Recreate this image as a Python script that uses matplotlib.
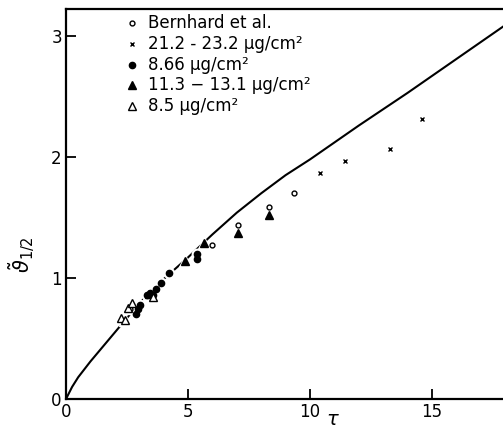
"""
Half-width vs tau: theory curve and measured points
"""

import numpy as np
import matplotlib
matplotlib.use('Agg')
import matplotlib.pyplot as plt

# Theory curve
curveTau = [0, 0.25, 0.5, 1, 1.5, 2, 3, 4, 5, 6, 7, 8, 9, 10, 12, 14, 16, 18]
curveTheta = [0, 0.10, 0.18, 0.31, 0.43, 0.55, 0.79, 0.99, 1.17, 1.36, 1.54, 1.70, 1.85, 1.98,
              2.26, 2.53, 2.81, 3.09]

# Bernhard et al. (open circles)
bernTau = [2.62, 5.97, 7.06, 8.33, 9.35]
bernTheta = [0.74, 1.27, 1.44, 1.59, 1.70]

# 21.2 - 23.2 ug/cm2 (crosses)
crossTau = [10.41, 11.43, 13.27, 14.57]
crossTheta = [1.87, 1.97, 2.07, 2.31]

# 8.66 ug/cm2 (filled circles)
dotTau = [2.87, 2.95, 3.03, 3.33, 3.44, 3.55, 3.69, 3.88, 4.22, 5.38, 5.38]
dotTheta = [0.70, 0.74, 0.78, 0.86, 0.88, 0.86, 0.91, 0.96, 1.04, 1.16, 1.20]

# 11.3 - 13.1 ug/cm2 (filled triangles)
triTau = [3.40, 4.88, 5.66, 7.06, 8.33]
triTheta = [0.87, 1.14, 1.29, 1.37, 1.52]

# 8.5 ug/cm2 (open triangles)
openTriTau = [2.24, 2.42, 2.55, 2.72, 3.58]
openTriTheta = [0.67, 0.65, 0.75, 0.79, 0.84]

labels = ['Bernhard et al.',
          '21.2 - 23.2 μg/cm²',
          '8.66 μg/cm²',
          '11.3 − 13.1 μg/cm²',
          '8.5 μg/cm²']


def plotPoints(ax, x, y, marker, size, face):
    # white halo first so the curve looks broken under the points
    ax.plot(x, y, linestyle='none', marker=marker, markersize=size + 3,
            markerfacecolor='white', markeredgecolor='white', zorder=3)
    ax.plot(x, y, linestyle='none', marker=marker, markersize=size,
            markerfacecolor=face, markeredgecolor='black',
            markeredgewidth=1.0, color='black', zorder=4)


def main():
    fig = plt.figure(figsize=(5.03, 4.34), dpi=100)
    ax = fig.add_axes([66 / 503, 35 / 434, 451 / 503, 390 / 434])

    ax.plot(curveTau, curveTheta, color='black', linewidth=1.5, zorder=2)

    styles = [('o', 3.5, 'white'), ('x', 3.5, 'black'), ('o', 4.5, 'black'),
              ('^', 5.5, 'black'), ('^', 5.5, 'white')]
    series = [(bernTau, bernTheta), (crossTau, crossTheta), (dotTau, dotTheta),
              (triTau, triTheta), (openTriTau, openTriTheta)]
    for (x, y), (m, s, f) in zip(series, styles):
        plotPoints(ax, x, y, m, s, f)

    # legend drawn by hand so the rows sit as tight as in the original
    keyX = (132 - 66) / 451
    textX = (148 - 66) / 451
    for i, ((m, s, f), lab) in enumerate(zip(styles, labels)):
        rowY = (399 - 23 - 20.8 * i) / 390
        ax.plot([keyX], [rowY], transform=ax.transAxes, linestyle='none',
                marker=m, markersize=s, markerfacecolor=f, markeredgecolor='black',
                markeredgewidth=1.0, clip_on=False)
        ax.text(textX, rowY, lab, transform=ax.transAxes, fontsize=12,
                va='center', ha='left')

    ax.set_xlim(0, 451 / 24.4)
    ax.set_ylim(0, 390 / 121.0)
    ax.set_xticks([0, 5, 10, 15])
    ax.set_yticks([0, 1, 2, 3])
    ax.tick_params(direction='in', length=7, width=1.3, labelsize=12, pad=3)
    ax.spines['right'].set_visible(False)
    for s in ['left', 'bottom', 'top']:
        ax.spines[s].set_linewidth(1.6)

    ax.set_xlabel(r'$\tau$', fontsize=14, va='center')
    ax.xaxis.set_label_coords((333 - 66) / 451, -0.052)
    ax.set_ylabel(r'$\tilde{\vartheta}_{1/2}$', fontsize=15)
    ax.yaxis.set_label_coords(-0.065, 0.37)

    fig.savefig('out.png', dpi=100)


if __name__ == '__main__':
    main()
